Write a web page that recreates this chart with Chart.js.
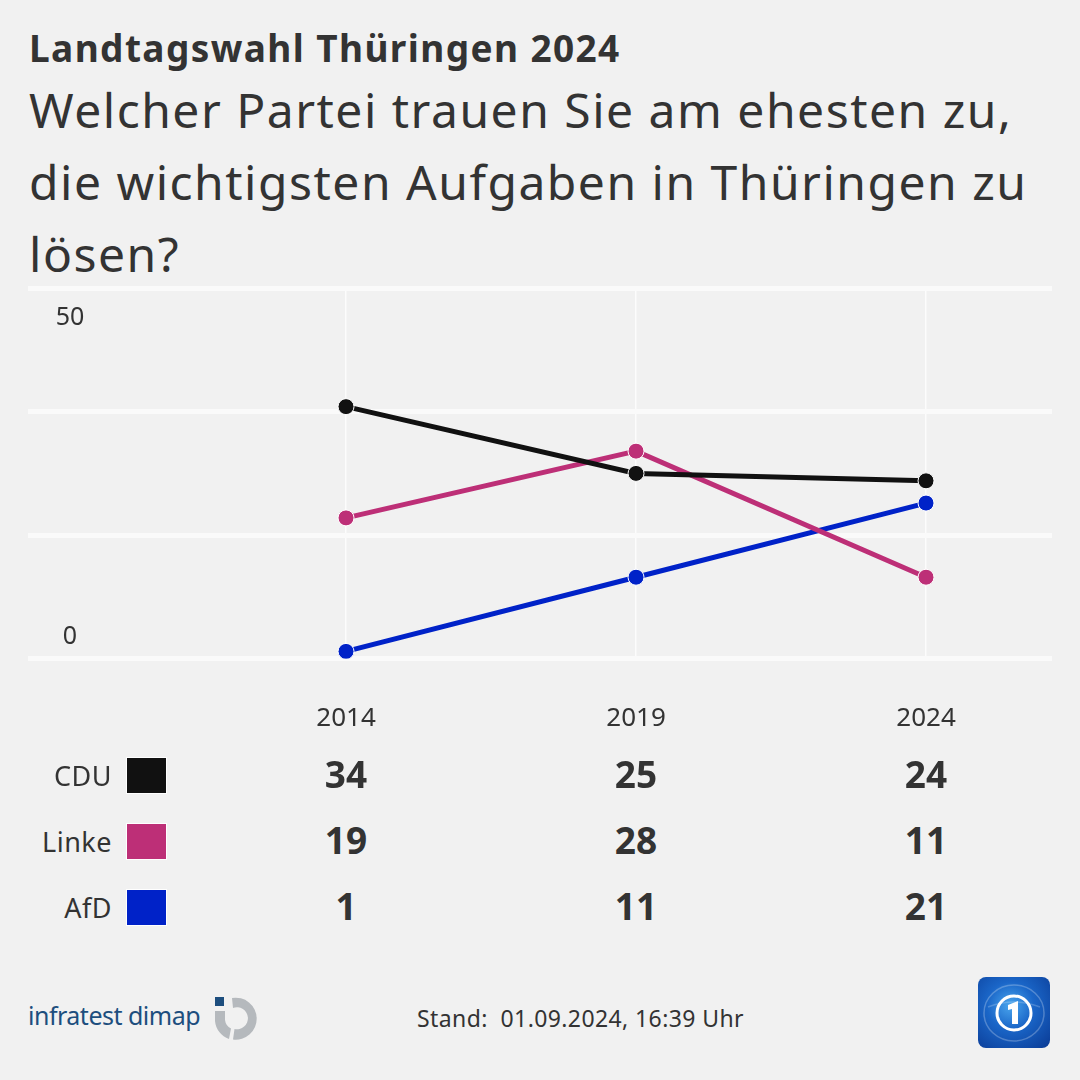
<!DOCTYPE html>
<html><head><meta charset="utf-8">
<script src="https://cdn.jsdelivr.net/npm/chart.js@4"></script>
<style>
html,body{margin:0;padding:0;background:#f1f1f1;}
body{width:1080px;height:1080px;position:relative;overflow:hidden;font-family:"Noto Sans",sans-serif;color:#333;}
#title{position:absolute;left:29px;top:22px;font-size:37px;font-weight:700;color:#333;letter-spacing:1.4px;}
#sub{position:absolute;left:29px;top:74px;font-size:48px;line-height:72px;color:#333;width:1030px;letter-spacing:1.5px;}
#wrap{position:absolute;left:0;top:270px;width:1080px;height:508px;}
.row{position:absolute;left:0;width:1080px;height:40px;}
.lab{position:absolute;right:968px;top:0;font-size:27px;line-height:40px;color:#333;letter-spacing:0.5px;}
.sq{position:absolute;left:126px;top:1px;width:41px;height:37px;border:1px solid #fff;box-sizing:border-box;}
.val{position:absolute;top:-4px;width:120px;margin-left:-60px;text-align:center;font-size:37px;font-weight:700;line-height:44px;color:#333;}
#foot1{position:absolute;left:28px;top:998px;font-size:25px;color:#1d4e7e;letter-spacing:-0.5px;}
#stand{position:absolute;left:417px;top:1002px;font-size:23px;color:#333;letter-spacing:0.4px;}
#ts{position:absolute;left:978px;top:977px;width:72px;height:71px;border-radius:8px;background:radial-gradient(circle at 45% 40%,#4aa6ee 0%,#1a66c8 40%,#0a3a94 100%);}
</style></head><body>
<div id="title">Landtagswahl Thüringen 2024</div>
<div id="sub">Welcher Partei trauen Sie am ehesten zu, die wichtigsten Aufgaben in Thüringen zu lösen?</div>
<div id="wrap"><canvas id="c" width="1080" height="508"></canvas></div>
<div id="table"></div>
<div id="foot1">infratest dimap</div>
<svg style="position:absolute;left:213px;top:995px" width="50" height="48" viewBox="0 0 50 48">
<rect x="2" y="2" width="9" height="9" fill="#1d4e7e"/>
<path d="M19 3 A21 21 0 1 1 20 44.5 L21.5 34 A11 11 0 1 0 20 13 Z" fill="#b5b9bd"/>
<path d="M2 16 L12 16 L12 25 A11 11 0 0 0 18 33.5 L16 44 A21 21 0 0 1 2 26 Z" fill="#b5b9bd"/>
</svg>
<div id="stand">Stand:&nbsp; 01.09.2024, 16:39 Uhr</div>
<div id="ts"><svg width="72" height="71" viewBox="0 0 72 71">
<ellipse cx="36" cy="36" rx="30" ry="28" fill="none" stroke="rgba(255,255,255,0.25)" stroke-width="1.5"/>
<path d="M10 30 Q36 20 62 30" fill="none" stroke="rgba(255,255,255,0.2)" stroke-width="1.5"/>
<circle cx="36" cy="36" r="17" fill="none" stroke="#fff" stroke-width="3"/>
<path d="M30 28 L40 24 L40 47 L34 47 L34 32 L30 33 Z" fill="#fff"/>
</svg></div>
<script>
const years = [2014, 2019, 2024];
const parties = ["CDU", "Linke", "AfD"];
const cdu = [34, 25, 24];
const linke = [19, 28, 11];
const afd = [1, 11, 21];
const colors = ["#111111", "#bd2f77", "#0022c8"];
const yTicks = [0, 50/3, 100/3, 50];
const yLabels = ["0", "50"];

const seriesVals = [cdu, linke, afd];
const datasets = parties.map((p, i) => ({
  label: p,
  data: years.map((y, j) => ({x: y, y: seriesVals[i][j]})),
  borderColor: colors[i],
  backgroundColor: colors[i],
  pointBackgroundColor: colors[i],
  pointBorderColor: "#ffffff",
  pointBorderWidth: 1,
  pointRadius: 8,
  borderWidth: 5,
  tension: 0
}));

const yLabelPlugin = {
  id: "yLabelPlugin",
  afterDraw(chart) {
    const ctx = chart.ctx, ys = chart.scales.y;
    ctx.save();
    ctx.font = "25px 'Noto Sans'";
    ctx.fillStyle = "#333";
    ctx.textAlign = "center";
    ctx.textBaseline = "middle";
    ctx.fillText(yLabels[1], 70, ys.getPixelForValue(50) + 30);
    ctx.fillText(yLabels[0], 70, ys.getPixelForValue(0) - 22);
    ctx.restore();
  }
};

new Chart(document.getElementById("c"), {
  type: "line",
  data: {datasets},
  options: {
    responsive: false,
    animation: false,
    events: [],
    layout: {padding: {left: 28, right: 28, top: 18, bottom: 0}},
    plugins: {legend: {display: false}, tooltip: {enabled: false}},
    scales: {
      x: {
        type: "linear",
        min: 2008.517, max: 2026.172,
        afterBuildTicks: s => { s.ticks = years.map(v => ({value: v})); },
        ticks: {color: "#333", font: {size: 26, family: "Noto Sans"}, padding: 44, callback: v => String(v)},
        grid: {color: "rgba(255,255,255,0.75)", lineWidth: 1.5, drawTicks: false},
        border: {display: false}
      },
      y: {
        min: 0, max: 50,
        afterBuildTicks: s => { s.ticks = yTicks.map(v => ({value: v})); },
        ticks: {display: false},
        grid: {color: "#fafafa", lineWidth: 5, drawTicks: false},
        border: {display: false}
      }
    }
  },
  plugins: [yLabelPlugin]
});

const rowsTop = [756, 822, 888];
const xs = [346, 636, 926];
const tbl = document.getElementById("table");
parties.forEach((p, i) => {
  const r = document.createElement("div");
  r.className = "row";
  r.style.top = rowsTop[i] + "px";
  let h = `<div class="lab">${p}</div><div class="sq" style="background:${colors[i]}"></div>`;
  seriesVals[i].forEach((v, j) => { h += `<div class="val" style="left:${xs[j]}px">${v}</div>`; });
  r.innerHTML = h;
  tbl.appendChild(r);
});
</script>
</body></html>
